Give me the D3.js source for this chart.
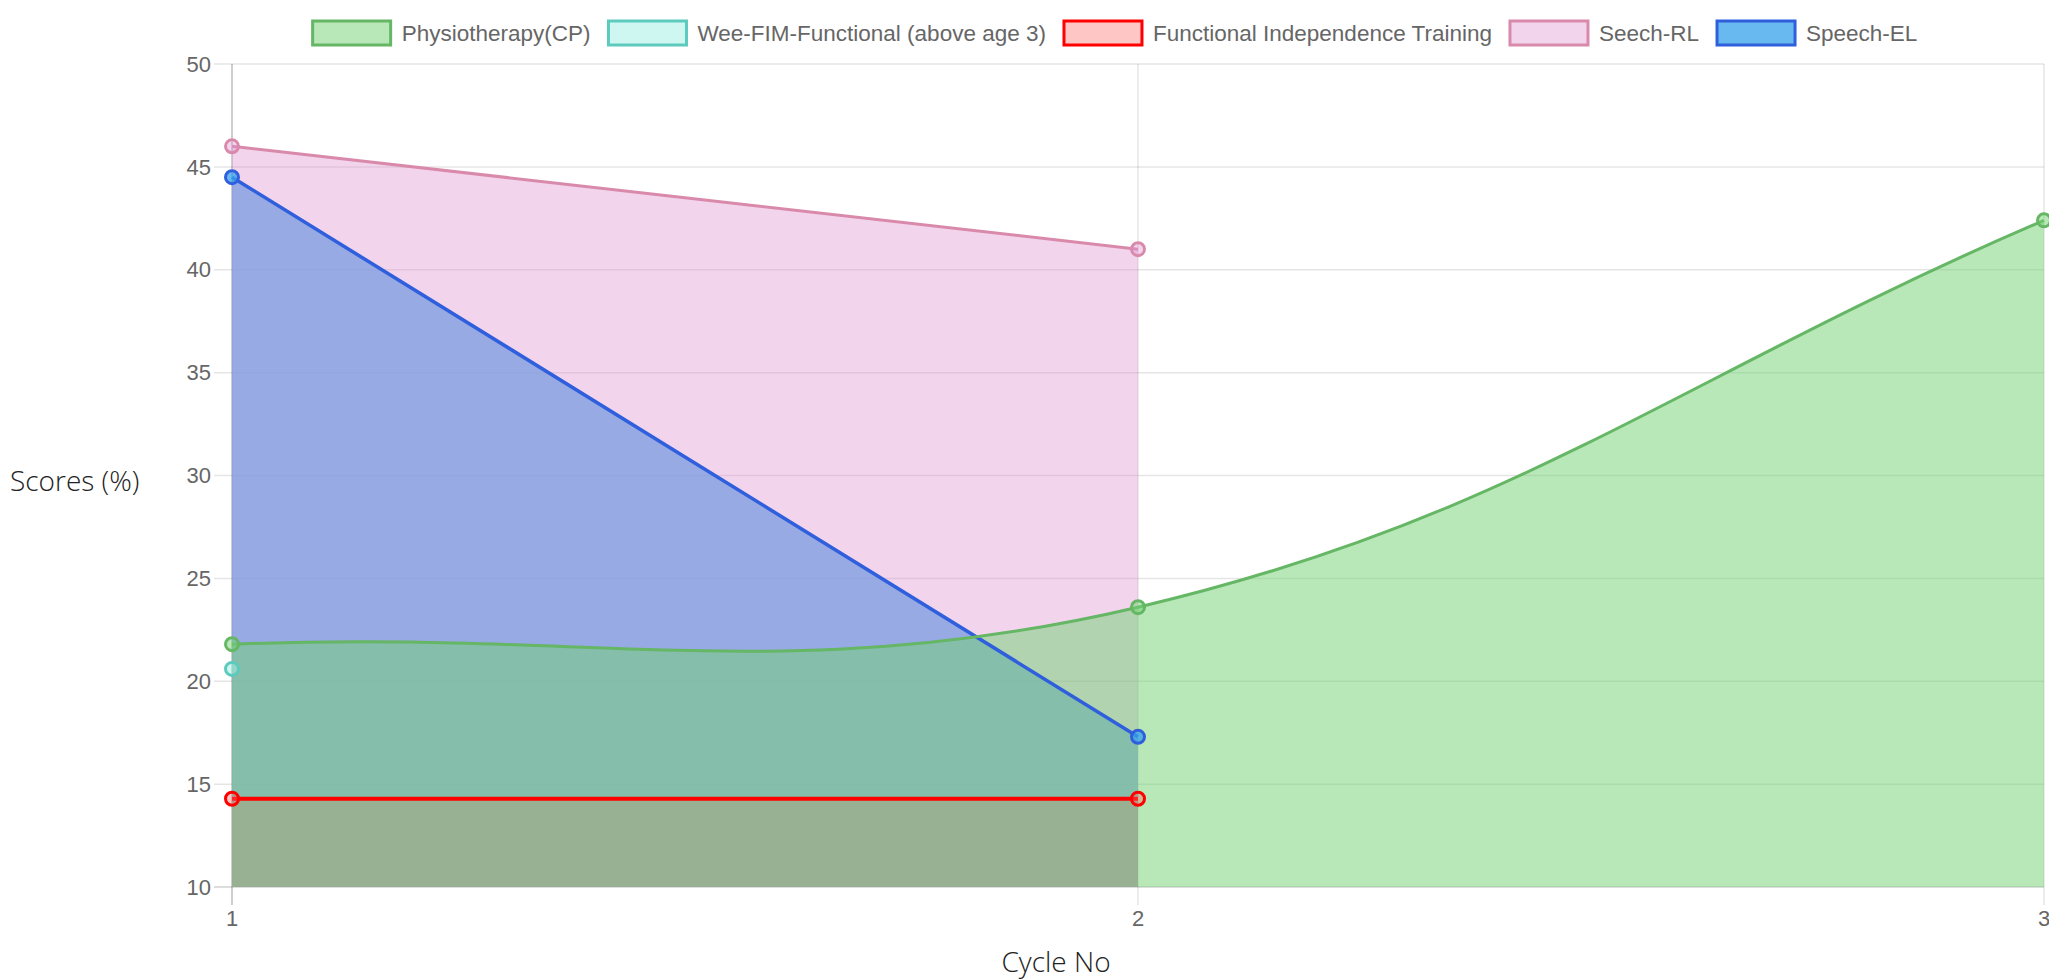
<!DOCTYPE html>
<html>
<head>
<meta charset="utf-8">
<script src="https://cdn.jsdelivr.net/npm/d3@7/dist/d3.min.js"></script>
<style>
  html, body { margin: 0; padding: 0; background: #fff; }
  svg { display: block; }
</style>
</head>
<body>
<svg id="chart" width="2049" height="980"></svg>
<script>
// chart values
const cycles = [1, 2, 3];
const seriesNames = ['Physiotherapy(CP)', 'Wee-FIM-Functional (above age 3)', 'Functional Independence Training', 'Seech-RL', 'Speech-EL'];
const physio = [21.8, 23.6, 42.4];
const weeFim = [20.6, null, null];
const fit = [14.29, 14.29, null];
const speechRL = [46, 41, null];
const speechEL = [44.5, 17.3, null];
const yTicks = [10, 15, 20, 25, 30, 35, 40, 45, 50];

const allSeries = [physio, weeFim, fit, speechRL, speechEL];
const lineColors = ['#65b665', '#5ccabd', '#ff0000', '#d98aab', '#2f5fdc'];
const fillColors = ['rgba(113,209,113,0.5)', 'rgba(160,240,230,0.5)', 'rgba(255,100,100,0.37)', 'rgba(225,148,210,0.4)', 'rgba(54,162,235,0.75)'];
const lineWidths = [3, 3, 4, 3, 3.5];

const svg = d3.select('#chart');
const plotLeft = 232, plotRight = 2044, plotTop = 64, plotBottom = 887;

const x = d3.scaleLinear().domain([1, 3]).range([plotLeft, plotRight]);
const y = d3.scaleLinear().domain([10, 50]).range([plotBottom, plotTop]);

const gridColor = 'rgba(0,0,0,0.1)';

// horizontal grid lines with the little tick extension on the left
svg.append('g').selectAll('line')
  .data(yTicks)
  .join('line')
  .attr('x1', plotLeft - 18).attr('x2', plotRight)
  .attr('y1', d => y(d)).attr('y2', d => y(d))
  .attr('stroke', d => d === 10 ? 'rgba(0,0,0,0.18)' : gridColor)
  .attr('stroke-width', 1.5);

// vertical grid lines
svg.append('g').selectAll('line')
  .data(cycles)
  .join('line')
  .attr('x1', d => x(d)).attr('x2', d => x(d))
  .attr('y1', plotTop).attr('y2', plotBottom + 18)
  .attr('stroke', d => d === 1 ? 'rgba(0,0,0,0.25)' : gridColor)
  .attr('stroke-width', 1.5);

// tick labels
const tickFont = '"Liberation Sans", Arial, Helvetica, sans-serif';
svg.append('g').selectAll('text')
  .data(yTicks)
  .join('text')
  .attr('x', plotLeft - 21)
  .attr('y', d => y(d))
  .attr('dy', '0.35em')
  .attr('text-anchor', 'end')
  .style('font-family', tickFont)
  .style('font-size', '22px')
  .style('fill', '#666')
  .text(d => d);

svg.append('g').selectAll('text')
  .data(cycles)
  .join('text')
  .attr('x', d => x(d))
  .attr('y', plotBottom + 31)
  .attr('dy', '0.35em')
  .attr('text-anchor', 'middle')
  .style('font-family', tickFont)
  .style('font-size', '22px')
  .style('fill', '#666')
  .text(d => d);

// axis titles
svg.append('text')
  .attr('x', 10).attr('y', 491)
  .style('font-family', '"Open Sans", "Noto Sans", sans-serif')
  .style('font-weight', 300)
  .style('font-size', '28px')
  .style('fill', '#222')
  .text('Scores (%)');

svg.append('text')
  .attr('x', 1056).attr('y', 972)
  .attr('text-anchor', 'middle')
  .style('font-family', '"Open Sans", "Noto Sans", sans-serif')
  .style('font-weight', 300)
  .style('font-size', '28px')
  .style('fill', '#222')
  .text('Cycle No');

// bezier like chart.js (tension 0.4)
function splinePath(pts, tension) {
  const cps = pts.map((cur, i) => {
    const prev = pts[i - 1] || cur, next = pts[i + 1] || cur;
    const d01 = Math.hypot(cur[0] - prev[0], cur[1] - prev[1]);
    const d12 = Math.hypot(next[0] - cur[0], next[1] - cur[1]);
    let s01 = d01 / (d01 + d12), s12 = d12 / (d01 + d12);
    if (isNaN(s01)) s01 = 0;
    if (isNaN(s12)) s12 = 0;
    const fa = tension * s01, fb = tension * s12;
    return {
      prev: [cur[0] - fa * (next[0] - prev[0]), cur[1] - fa * (next[1] - prev[1])],
      next: [cur[0] + fb * (next[0] - prev[0]), cur[1] + fb * (next[1] - prev[1])]
    };
  });
  const p = d3.path();
  p.moveTo(pts[0][0], pts[0][1]);
  for (let i = 1; i < pts.length; i++) {
    p.bezierCurveTo(cps[i - 1].next[0], cps[i - 1].next[1], cps[i].prev[0], cps[i].prev[1], pts[i][0], pts[i][1]);
  }
  return p.toString();
}

const datasets = allSeries.map((vals, i) => ({
  i: i,
  pts: vals.map((v, j) => v == null ? null : [x(cycles[j]), y(v)]).filter(p => p)
}));

// fills first, all of them, last dataset at the bottom
const reversed = datasets.slice().reverse();
svg.append('g').selectAll('path')
  .data(reversed.filter(d => d.pts.length > 1))
  .join('path')
  .attr('d', d => splinePath(d.pts, 0.4) +
    'L' + d.pts[d.pts.length - 1][0] + ',' + plotBottom +
    'L' + d.pts[0][0] + ',' + plotBottom + 'Z')
  .attr('fill', d => fillColors[d.i]);

// then lines + points
reversed.forEach(d => {
  const g = svg.append('g');
  if (d.pts.length > 1) {
    g.append('path')
      .attr('d', splinePath(d.pts, 0.4))
      .attr('fill', 'none')
      .attr('stroke', lineColors[d.i])
      .attr('stroke-width', lineWidths[d.i]);
  }
  g.selectAll('circle')
    .data(d.pts)
    .join('circle')
    .attr('cx', p => p[0]).attr('cy', p => p[1])
    .attr('r', 6.5)
    .attr('fill', fillColors[d.i])
    .attr('stroke', lineColors[d.i])
    .attr('stroke-width', 3);
});

// legend
const legend = svg.append('g');
const boxW = 78, boxH = 24, gap = 11, pad = 18;
const items = legend.selectAll('g')
  .data(seriesNames)
  .join('g');
items.append('rect')
  .attr('width', boxW).attr('height', boxH)
  .attr('y', 21)
  .attr('fill', (d, i) => fillColors[i])
  .attr('stroke', (d, i) => lineColors[i])
  .attr('stroke-width', 3);
items.append('text')
  .attr('x', boxW + gap)
  .attr('y', 33)
  .attr('dy', '0.35em')
  .style('font-family', tickFont)
  .style('font-size', '22.5px')
  .style('fill', '#666')
  .text(d => d);

let widths = [];
items.each(function () {
  widths.push(boxW + gap + d3.select(this).select('text').node().getComputedTextLength());
});
const total = d3.sum(widths) + pad * (widths.length - 1);
let cx = 1115 - total / 2;
items.attr('transform', (d, i) => {
  const t = 'translate(' + cx + ',0)';
  cx += widths[i] + pad;
  return t;
});
</script>
</body>
</html>
